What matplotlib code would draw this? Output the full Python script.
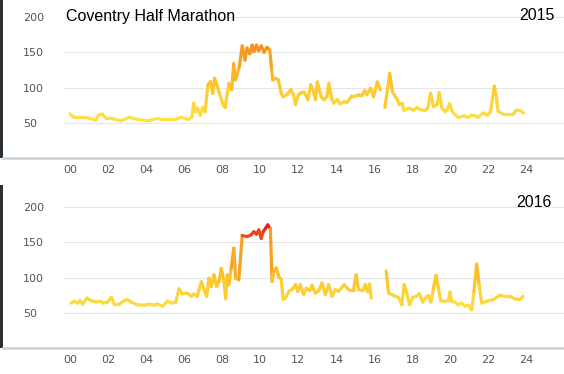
import numpy as np
import matplotlib
matplotlib.use("Agg")
import matplotlib.pyplot as plt
from matplotlib.collections import LineCollection
from matplotlib.colors import LinearSegmentedColormap, Normalize
from matplotlib.lines import Line2D
from matplotlib.patches import Rectangle

# traffic level by hour of day, Coventry Half Marathon day (NaN = no data)
hours_2015 = [0.0, 0.2, 0.9, 1.35, 1.5, 1.7, 1.9, 2.15, 2.7, 3.1, 3.55, 4.1, 4.6, 4.8,
              5.5, 5.85, 6.2, 6.4, 6.5, 6.6, 6.7, 6.85, 6.97, 7.1, 7.25, 7.38, 7.5,
              7.6, 7.75, 7.9, 8.05, 8.15, 8.35, 8.5, 8.6, 8.7, 8.9, 9.05, 9.2, 9.3,
              9.45, 9.57, 9.66, 9.8, 9.9, 10.05, 10.2, 10.35, 10.5, 10.6, 10.65, 10.8,
              10.95, 11.1, 11.2, 11.4, 11.6, 11.75, 11.85, 12.0, 12.1, 12.3, 12.5,
              12.65, 12.8, 12.9, 13.0, 13.2, 13.35, 13.5, 13.6, 13.75, 13.85, 14.05,
              14.2, 14.4, 14.55, 14.8, 14.9, 15.2, 15.35, 15.5, 15.6, 15.8, 15.95,
              16.15, 16.3, 16.4, 16.55, 16.8, 16.95, 17.1, 17.2, 17.3, 17.45, 17.55,
              17.8, 18.05, 18.25, 18.4, 18.65, 18.8, 18.95, 19.1, 19.3, 19.4, 19.55,
              19.7, 19.8, 19.95, 20.1, 20.25, 20.4, 20.7, 20.9, 21.1, 21.3, 21.45,
              21.7, 21.95, 22.1, 22.3, 22.4, 22.5, 22.75, 23.0, 23.3, 23.45, 23.65,
              23.85]
values_2015 = [63, 58, 57.5, 54, 61, 62.5, 56.5, 56.5, 53, 58, 55, 53, 56.5, 55,
               55, 58, 55, 58, 78, 66, 71, 61, 72, 66, 104, 108.5, 92,
               113, 101, 88, 75, 72, 106, 97, 134, 111, 130, 159, 139, 156,
               148, 160, 151, 160, 152, 159, 150, 157, 153, 125, 111, 113,
               111, 92, 87, 90, 97, 90, 76, 90, 92, 94, 83,
               104, 94, 83, 108, 87, 83, 87, 106, 85, 78, 83,
               77, 80, 79, 88, 87, 90, 90, 96, 90, 99, 87,
               108, 97, np.nan, 72, 120, 94, 87, 83, 76, 78, 68,
               71, 68, 72, 69, 67.5, 71, 92, 73, 76, 93, 71,
               66, 68, 77, 66, 61, 58, 60, 58, 61, 60, 58,
               64, 61, 66, 102, 87, 66, 63, 63, 63, 68, 67.5,
               64]

hours_2016 = [0.05, 0.23, 0.4, 0.54, 0.66, 0.89, 1.1, 1.36, 1.59, 1.77, 1.97, 2.18,
              2.32, 2.58, 2.85, 3.02, 3.2, 3.55, 3.9, 4.16, 4.42, 4.6, 4.86, 5.12,
              5.38, 5.56, 5.73, 5.9, 6.17, 6.38, 6.51, 6.69, 6.9, 7.04, 7.18, 7.3,
              7.43, 7.56, 7.7, 7.83, 7.95, 8.09, 8.18, 8.26, 8.35, 8.47, 8.61, 8.7,
              8.87, 9.05, 9.31, 9.52, 9.66, 9.8, 9.92, 10.05, 10.15, 10.27, 10.39,
              10.53, 10.62, 10.71, 10.85, 10.97, 11.1, 11.2, 11.32, 11.5, 11.67,
              11.85, 11.97, 12.1, 12.28, 12.42, 12.6, 12.72, 12.89, 13.07, 13.24,
              13.42, 13.59, 13.77, 13.94, 14.11, 14.41, 14.64, 14.9, 15.04, 15.16,
              15.39, 15.51, 15.63, 15.74, 15.83, 16.2, 16.61, 16.74, 16.91, 17.09,
              17.26, 17.44, 17.56, 17.7, 17.84, 18.01, 18.19, 18.36, 18.54, 18.71,
              18.83, 18.96, 19.1, 19.23, 19.36, 19.48, 19.71, 19.88, 19.97, 20.06,
              20.23, 20.4, 20.58, 20.75, 20.93, 21.11, 21.23, 21.37, 21.5, 21.63,
              21.89, 22.24, 22.59, 22.85, 23.11, 23.38, 23.64, 23.81]
values_2016 = [64, 66.5, 64, 67.5, 62.5, 71, 67.5, 65.5, 66.5, 64, 65.5, 72,
               62.5, 62.5, 67.5, 69, 65.5, 61.5, 61, 62.5, 61, 62.5, 59.5, 66.5,
               64, 65.5, 84, 77, 78, 73.5, 77, 73.5, 94, 83, 73.5, 99,
               87.5, 104, 87.5, 94.5, 113, 94.5, 70, 104, 90, 113, 141.5, 99,
               97, 159.5, 158, 160.5, 165, 161.5, 167.5, 155.5, 165, 169.5, 174.5,
               169, 94.5, 108.5, 113.5, 101.5, 97, 69, 71, 80.5, 83,
               90, 80.5, 90, 76, 85, 81.5, 89, 78, 81.5, 92.5,
               76, 90, 73.5, 83, 80.5, 90, 83, 83, 104, 83,
               81.5, 90, 80.5, 91, 71, np.nan, 109.5, 78, 76, 73.5,
               72, 61.5, 90, 78, 61.5, 72, 73.5, 77, 65.5, 72,
               74.5, 65.5, 85, 103, 85, 67.5, 66.5, 67.5, 79.5, 66.5,
               65.5, 61.5, 64, 59.5, 61, 54.5, 80.5, 119, 90, 64,
               66.5, 69, 75, 73.5, 73.5, 70, 69, 73.5]

hour_ticks = list(range(0, 25, 2))
hour_labels = ["%02d" % h for h in hour_ticks]
y_ticks = [50, 100, 150, 200]
chart_title = "Coventry Half Marathon"
years = ["2015", "2016"]

W, H = 564, 374
fig = plt.figure(figsize=(W / 100, H / 100), dpi=100)
fig.patch.set_facecolor("white")

cmap = LinearSegmentedColormap.from_list(
    "heat", [(0.0, "#fbe54a"), (0.35, "#fdc72c"), (0.7, "#f7931e"),
             (0.85, "#ec4a1c"), (1.0, "#de0f1c")])

left = 63 / W
panels = [
    # (top px, bottom px, ylim top, colour norm max)
    (0, 158.3, 224, 200),
    (185, 348.3, 231, 180),
]
data = [(hours_2015, values_2015), (hours_2016, values_2016)]

for i, ((top, bot, ytop, vmax), (hrs, vals)) in enumerate(zip(panels, data)):
    ax = fig.add_axes([left, 1 - bot / H, 1 - left, (bot - top) / H])
    ax.set_xlim(-0.368, 25.96)
    ax.set_ylim(0, ytop)
    for s in ax.spines.values():
        s.set_visible(False)
    ax.set_yticks(y_ticks)
    ax.grid(axis="y", color="#e6e6e6", lw=0.8)
    ax.set_axisbelow(True)
    ax.set_xticks(hour_ticks)
    ax.set_xticklabels(hour_labels)
    ax.tick_params(axis="x", length=0, pad=4.5, labelsize=8, labelcolor="#555555")
    ax.tick_params(axis="y", length=0, pad=28.8, labelsize=8, labelcolor="#555555")
    for lab in ax.get_yticklabels():
        lab.set_horizontalalignment("left")

    # gradient coloured line, split where there is no data
    x = np.array(hrs, dtype=float)
    y = np.array(vals, dtype=float)
    pts = np.column_stack([x, y])
    segs = np.stack([pts[:-1], pts[1:]], axis=1)
    ok = ~np.isnan(segs).any(axis=(1, 2))
    segs = segs[ok]
    mid = segs[:, :, 1].mean(axis=1)
    lc = LineCollection(segs, cmap=cmap, norm=Normalize(50, vmax),
                        linewidths=2.3, capstyle="round", joinstyle="round")
    lc.set_array(mid)
    ax.add_collection(lc)

    # bottom rule and dark left border
    yb = 1 - bot / H
    fig.add_artist(Line2D([3 / W, 1], [yb, yb], color="#c8d0d8", lw=1.8))
    fig.add_artist(Rectangle((0, yb), 3 / W, (bot - top) / H, color="#2b3035",
                             transform=fig.transFigure, lw=0))

fig.text(66 / W, 1 - 17 / H, chart_title, fontsize=11.5, family="Liberation Sans",
         va="center", ha="left", color="black")
fig.text(555 / W, 1 - 16 / H, years[0], fontsize=11.5, family="Liberation Sans",
         va="center", ha="right", color="black")
fig.text(552 / W, 1 - 203 / H, years[1], fontsize=11.5, family="Liberation Sans",
         va="center", ha="right", color="black")

fig.savefig("out.png", dpi=100)
